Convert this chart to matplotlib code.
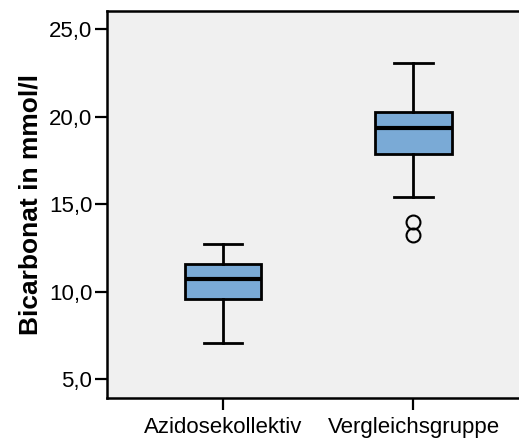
import matplotlib
matplotlib.use("Agg")
import matplotlib.pyplot as plt

categories = ["Azidosekollektiv", "Vergleichsgruppe"]
whislo = [7.1, 15.4]
q1 = [9.6, 17.85]
med = [10.75, 19.35]
q3 = [11.6, 20.25]
whishi = [12.75, 23.1]
fliers = [[], [14.0, 13.25]]
yticks = [5.0, 10.0, 15.0, 20.0, 25.0]
ylabel = "Bicarbonat in mmol/l"

plt.rcParams['font.family'] = ['Liberation Sans', 'DejaVu Sans']

fig = plt.figure(figsize=(5.19, 4.41), dpi=100)
ax = fig.add_axes([107/519, 43/441, 1 - 107/519 + 0.002, (398-11)/441])
ax.set_facecolor('#f0f0f0')

stats = []
for i, c in enumerate(categories):
    stats.append(dict(label=c, med=med[i], q1=q1[i], q3=q3[i],
                      whislo=whislo[i], whishi=whishi[i], fliers=fliers[i]))

ax.bxp(stats, positions=[1, 2], widths=0.40, patch_artist=True,
       boxprops=dict(facecolor='#7aaad6', edgecolor='black', linewidth=2),
       medianprops=dict(color='black', linewidth=3),
       whiskerprops=dict(color='black', linewidth=2),
       capprops=dict(color='black', linewidth=2),
       capwidths=0.2,
       flierprops=dict(marker='o', markerfacecolor='none', markeredgecolor='black',
                       markersize=10, markeredgewidth=1.5))

ax.set_xlim(0.389, 2.56)
ax.set_ylim(3.93, 26.05)
ax.set_yticks(yticks)
ax.set_yticklabels([f"{v:.1f}".replace('.', ',') for v in yticks])
ax.set_xticks([1, 2])
ax.set_xticklabels(categories)
ax.tick_params(axis='both', direction='out', length=8.5, width=1.6, labelsize=16, pad=2, colors='black')
ax.tick_params(axis='x', pad=5)
ax.set_ylabel(ylabel, fontsize=19, fontweight='bold', labelpad=5)

for s in ['left', 'bottom', 'top']:
    ax.spines[s].set_linewidth(1.8)
    ax.spines[s].set_color('black')
ax.spines['right'].set_visible(False)

fig.savefig("out.png", dpi=100)
